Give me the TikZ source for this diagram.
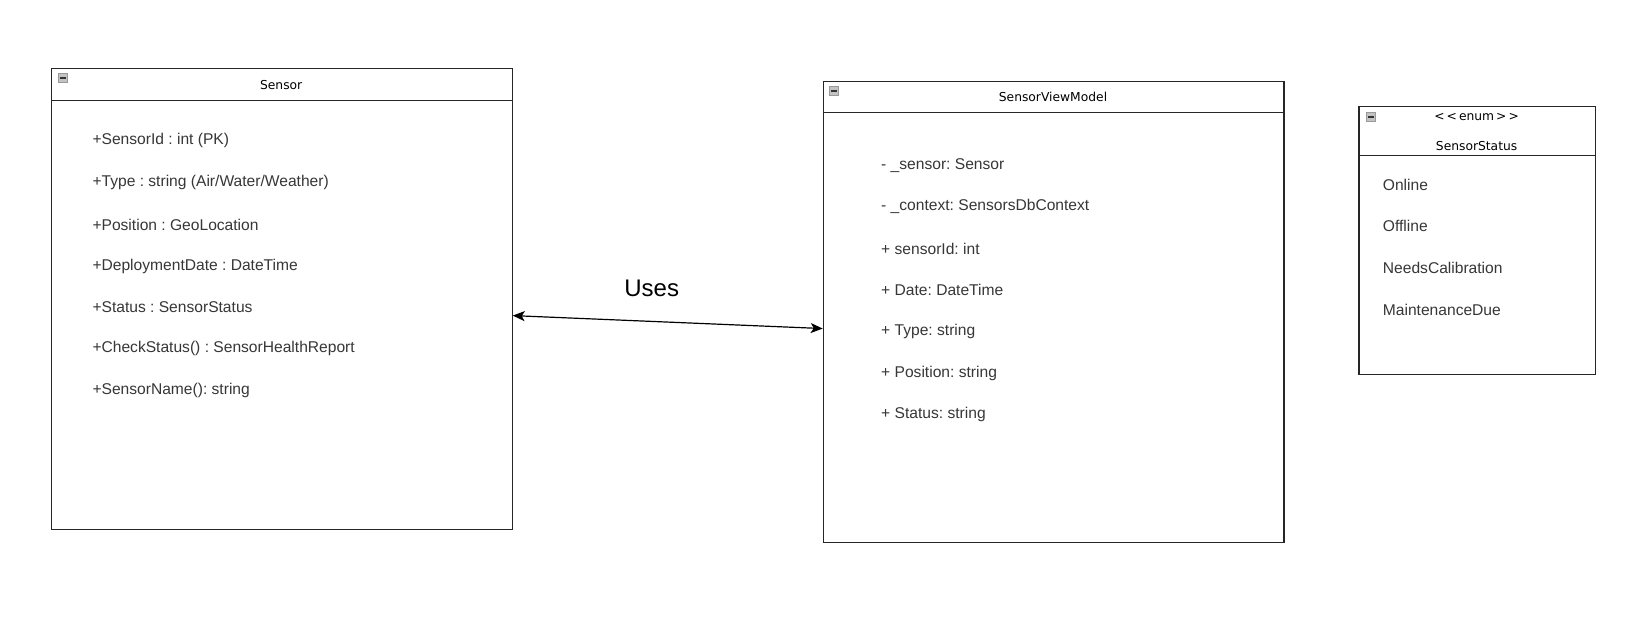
\documentclass[tikz,border=0pt]{standalone}
\usepackage{fontspec}
\setmainfont{Liberation Sans}
\newfontfamily\titlefont{DejaVu Sans}
\usetikzlibrary{arrows.meta}
\definecolor{attrgray}{RGB}{55,55,55}
\definecolor{icongray}{RGB}{195,195,195}
\begin{document}
\frenchspacing
\begin{tikzpicture}[x=1pt,y=-1pt,
  classbox/.style={draw=black!85, line width=1.2pt, fill=white, anchor=north west, inner sep=0pt},
  attr/.style={anchor=west, inner sep=0pt, yshift=-1.2pt, text=attrgray, font=\frenchspacing\fontsize{15.6}{18}\selectfont},
  ctitle/.style={inner sep=0pt, text=black, font=\titlefont\fontsize{12.3}{14}\selectfont},
  usesl/.style={inner sep=0pt, text=black, font=\fontsize{24}{28}\selectfont},
  conn/.style={line width=1.2pt, {Stealth[length=12pt,width=10pt,inset=3pt]}-{Stealth[length=12pt,width=10pt,inset=3pt]}}
]
\useasboundingbox (0,0) rectangle (1645,618);
% boxes
\node[classbox, minimum width=460.5pt, minimum height=461pt] (sensor) at (51,68) {};
\node[classbox, minimum width=460.6pt, minimum height=460.5pt] (svm) at (822.7,81) {};
\node[classbox, minimum width=236.7pt, minimum height=268pt] (status) at (1358.3,105.7) {};
% header lines
\draw[line width=1.2pt, black!85] (sensor.west |- 0,100.7) -- (sensor.east |- 0,100.7);
\draw[line width=1.2pt, black!85] (svm.west |- 0,112.7) -- (svm.east |- 0,112.7);
\draw[line width=1.2pt, black!85] (status.west |- 0,155.7) -- (status.east |- 0,155.7);
% collapse icons
\foreach \nm/\ix/\iy in {i1/57.8/73.5, i2/829/86.5, i3/1366.2/112.5}{
  \draw[gray!80, fill=icongray, line width=0.6pt] (\ix,\iy) rectangle ++(9.5,9);
  \draw[black!80, line width=1.6pt] (\ix+1.8,\iy+4.5) -- ++(6,0);
}
% titles
\node[ctitle] (sensortitle) at (281.2,85.5) {Sensor};
\node[ctitle] (svmtitle) at (1053,97) {SensorViewModel};
\node[ctitle] (enumtag) at (1476.6,117) {\char"003C\,\char"003C\,enum\,\char"003E\,\char"003E};
\node[ctitle] (statustitle) at (1476.6,146.5) {SensorStatus};
% Sensor attributes
\node[attr] (s1) at (92.3,139.5) {+SensorId : int (PK)};
\node[attr] (s2) at (92.3,181.5) {+Type : string (Air/Water/Weather)};
\node[attr] (s3) at (92.3,223.4) {+Position : GeoLocation};
\node[attr] (s4) at (92.3,265.4) {+DeploymentDate : DateTime};
\node[attr] (s5) at (92.3,306.3) {+Status : SensorStatus};
\node[attr] (s6) at (92.3,347.2) {+CheckStatus() : SensorHealthReport};
\node[attr] (s7) at (92.3,389.2) {+SensorName(): string};
% SensorViewModel attributes
\node[attr] (v1) at (881,164.7) {- \_sensor: Sensor};
\node[attr] (v2) at (881,205.6) {- \_context: SensorsDbContext};
\node[attr] (v3) at (881,247.6) {+ sensorId: int};
\node[attr] (v4) at (881,288.5) {+ Date: DateTime};
\node[attr] (v5) at (881,330.4) {+ Type: string};
\node[attr] (v6) at (881,372.4) {+ Position: string};
\node[attr] (v7) at (881,413.3) {+ Status: string};
% enum values
\node[attr] (e1) at (1382.7,183.3) {Online};
\node[attr] (e2) at (1382.7,225) {Offline};
\node[attr] (e3) at (1382.7,266.7) {NeedsCalibration};
\node[attr] (e4) at (1382.7,308.3) {MaintenanceDue};
% connector
\draw[conn] ([yshift=-16.5pt]sensor.east) -- ([yshift=-16.7pt]svm.west);
\node[usesl] (uses) at (651.7,288.3) {Uses};
\end{tikzpicture}
\end{document}
